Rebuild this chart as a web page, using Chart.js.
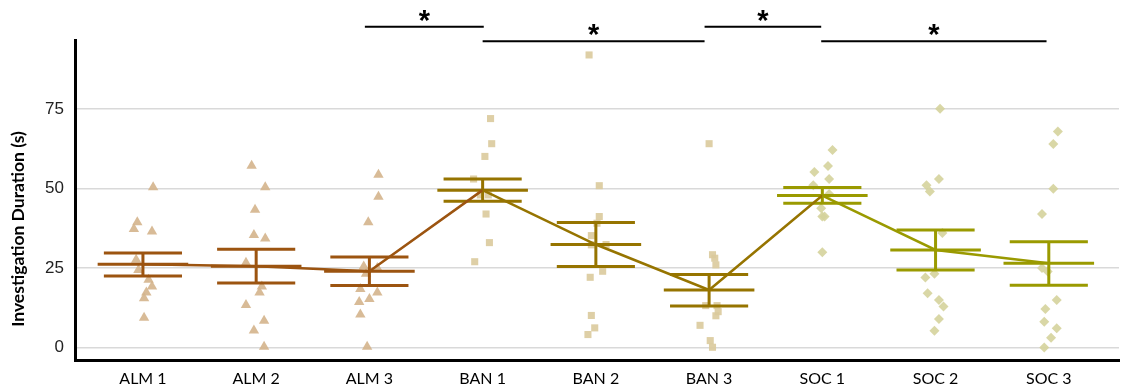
<!DOCTYPE html>
<html>
<head>
<meta charset="utf-8">
<script src="https://cdn.jsdelivr.net/npm/chart.js@4"></script>
<style>
  body { margin: 0; background: #fff; }
</style>
</head>
<body>
<canvas id="chart" width="1125" height="389"></canvas>
<script>
const CATEGORIES = ['ALM 1', 'ALM 2', 'ALM 3', 'BAN 1', 'BAN 2', 'BAN 3', 'SOC 1', 'SOC 2', 'SOC 3'];
const MEANS = [26.2, 25.6, 24.0, 49.5, 32.4, 18.1, 47.8, 30.7, 26.5];
const UPPER = [29.7, 30.9, 28.5, 53.0, 39.3, 23.0, 50.3, 37.0, 33.3];
const LOWER = [22.5, 20.3, 19.5, 46.0, 25.5, 13.1, 45.4, 24.4, 19.6];

// individual animals, one list per category
const POINT_VALUES = [
  [50.4, 39.4, 37.3, 36.5, 27.6, 24.4, 21.3, 19.2, 17.3, 15.5, 9.4],
  [57.2, 50.4, 43.3, 35.4, 34.3, 26.7, 19.2, 17.3, 13.4, 8.4, 5.4, 0.3],
  [54.3, 47.4, 39.4, 25.5, 23.2, 25.0, 18.4, 17.3, 15.3, 14.3, 10.4, 0.3],
  [72.0, 64.1, 60.1, 53.0, 48.0, 48.0, 42.0, 33.0, 27.0],
  [92.0, 50.9, 41.2, 39.1, 35.2, 32.3, 32.4, 24.0, 22.1, 10.1, 6.2, 4.1],
  [64.1, 29.2, 28.1, 26.0, 13.2, 13.2, 11.3, 10.0, 7.0, 2.2, 0.1],
  [62.1, 57.1, 55.2, 53.0, 51.0, 48.3, 43.8, 41.2, 41.2, 30.0],
  [75.1, 53.0, 51.0, 49.1, 36.0, 23.2, 22.0, 17.1, 15.0, 12.9, 9.0, 5.3],
  [67.9, 64.0, 49.9, 42.0, 25.0, 23.9, 15.0, 12.1, 8.1, 6.1, 3.1, 0.0],
];
// horizontal jitter of each point, in category widths
const POINT_JITTER = [
  [0.09, -0.05, -0.08, 0.08, -0.06, -0.04, 0.05, 0.08, 0.03, 0.01, 0.01],
  [-0.04, 0.08, -0.01, -0.02, 0.08, -0.09, 0.05, 0.03, -0.09, 0.07, -0.02, 0.07],
  [0.08, 0.08, -0.01, -0.05, -0.03, 0.07, -0.08, 0.07, 0.00, -0.09, -0.08, -0.02],
  [0.07, 0.08, 0.02, -0.08, -0.02, 0.05, 0.03, 0.06, -0.07],
  [-0.06, 0.03, 0.03, 0.01, -0.04, -0.04, 0.09, 0.06, -0.05, -0.04, -0.01, -0.07],
  [0.00, 0.03, 0.05, 0.06, -0.03, 0.07, 0.08, 0.06, -0.08, 0.01, 0.03],
  [0.09, 0.05, -0.07, 0.06, -0.08, 0.06, -0.01, 0.00, 0.02, 0.00],
  [0.04, 0.03, -0.08, -0.05, 0.06, -0.01, -0.09, -0.07, 0.03, 0.07, 0.03, -0.01],
  [0.08, 0.04, 0.04, -0.06, -0.06, -0.01, 0.07, -0.03, -0.04, 0.07, 0.02, -0.04],
];

// significance brackets (category positions) and their height
const SIG_FROM = [2.96, 4.0, 5.96, 6.99];
const SIG_TO = [4.01, 5.96, 6.99, 8.98];
const SIG_LEVEL = [100.9, 96.3, 100.9, 96.3];

const Y_TICKS = [0, 25, 50, 75];

const GROUPS = {
  ALM: { line: '#9C5410', dot: 'rgba(212, 180, 140, 0.9)', shape: 'triangle', radius: 6 },
  BAN: { line: '#967400', dot: 'rgba(218, 202, 156, 0.9)', shape: 'rect', radius: 5 },
  SOC: { line: '#9A9A00', dot: 'rgba(213, 211, 156, 0.9)', shape: 'rectRot', radius: 5 },
};
const groupOf = (i) => CATEGORIES[i].split(' ')[0];

const CAP_HALF = 0.345;
const MEAN_HALF = 0.4;

const datasets = [];

// scatter points
CATEGORIES.forEach((cat, i) => {
  const g = GROUPS[groupOf(i)];
  datasets.push({
    label: cat,
    data: POINT_VALUES[i].map((v, j) => ({ x: i + 1 + POINT_JITTER[i][j], y: v })),
    pointStyle: g.shape,
    pointRadius: g.radius,
    pointBackgroundColor: g.dot,
    pointBorderWidth: 0,
    order: 5,
  });
});

// mean + error bars, one dataset per group, gaps break the segments
Object.keys(GROUPS).forEach((key) => {
  const data = [];
  CATEGORIES.forEach((cat, i) => {
    if (groupOf(i) !== key) return;
    const x = i + 1;
    data.push(
      { x: x - CAP_HALF, y: UPPER[i] }, { x: x + CAP_HALF, y: UPPER[i] }, { x, y: null },
      { x: x - CAP_HALF, y: LOWER[i] }, { x: x + CAP_HALF, y: LOWER[i] }, { x, y: null },
      { x: x - MEAN_HALF, y: MEANS[i] }, { x: x + MEAN_HALF, y: MEANS[i] }, { x, y: null },
      { x, y: UPPER[i] }, { x, y: LOWER[i] }, { x, y: null },
    );
  });
  datasets.push({
    label: key + ' error',
    data,
    showLine: true,
    spanGaps: false,
    borderColor: GROUPS[key].line,
    borderWidth: 3,
    borderCapStyle: 'butt',
    pointRadius: 0,
    order: 2,
  });
});

// line through the means, each segment coloured by where it starts
datasets.push({
  label: 'means',
  data: MEANS.map((m, i) => ({ x: i + 1, y: m })),
  showLine: true,
  borderWidth: 2.5,
  pointRadius: 0,
  segment: {
    borderColor: (ctx) => GROUPS[groupOf(ctx.p0DataIndex)].line,
  },
  order: 1,
});

// significance bars
SIG_FROM.forEach((from, i) => {
  datasets.push({
    label: 'sig ' + i,
    data: [{ x: from, y: SIG_LEVEL[i] }, { x: SIG_TO[i], y: SIG_LEVEL[i] }],
    showLine: true,
    borderColor: '#000',
    borderWidth: 2,
    pointRadius: 0,
    clip: false,
    order: 0,
  });
});

const annotate = {
  id: 'annotate',
  afterDraw(chart) {
    const { ctx, scales: { x, y } } = chart;
    ctx.save();
    ctx.fillStyle = '#000';
    ctx.textAlign = 'center';
    ctx.textBaseline = 'middle';
    ctx.font = 'bold 29px "Liberation Sans"';
    SIG_FROM.forEach((from, i) => {
      const px = x.getPixelForValue((from + SIG_TO[i]) / 2);
      const py = y.getPixelForValue(SIG_LEVEL[i]) - 5;
      ctx.fillText('*', px, py);
    });
    // axis title, sits a little below the middle like the original
    ctx.translate(18, 229);
    ctx.rotate(-Math.PI / 2);
    ctx.font = 'bold 17.5px Lato';
    ctx.fillText('Investigation Duration (s)', 0, 0);
    ctx.restore();
  }
};

new Chart(document.getElementById('chart'), {
  type: 'scatter',
  data: { datasets },
  options: {
    responsive: false,
    animation: false,
    layout: { padding: { top: 40, left: 0, right: 0, bottom: 0 } },
    plugins: {
      legend: { display: false },
      tooltip: { enabled: false },
    },
    scales: {
      x: {
        type: 'linear',
        min: 0.4,
        max: 9.62,
        afterBuildTicks: (scale) => {
          scale.ticks = CATEGORIES.map((c, i) => ({ value: i + 1 }));
        },
        afterFit: (scale) => { scale.height = 29; },
        grid: { display: false, drawTicks: false },
        border: { color: '#000', width: 3 },
        ticks: {
          callback: (value) => CATEGORIES[value - 1] ?? '',
          autoSkip: false,
          maxRotation: 0,
          padding: 9,
          color: '#000',
          font: { family: 'Lato', size: 16 },
        },
      },
      y: {
        min: -3.9,
        max: 96.7,
        afterBuildTicks: (scale) => {
          scale.ticks = Y_TICKS.map((value) => ({ value }));
        },
        afterFit: (scale) => { scale.width = 75; },
        grid: { color: '#d9d9d9', lineWidth: 1.5, drawTicks: false },
        border: { color: '#000', width: 3 },
        ticks: {
          padding: 11,
          color: '#222',
          font: { family: '"Liberation Sans"', size: 17 },
        },
      },
    },
  },
  plugins: [annotate],
});
</script>
</body>
</html>
